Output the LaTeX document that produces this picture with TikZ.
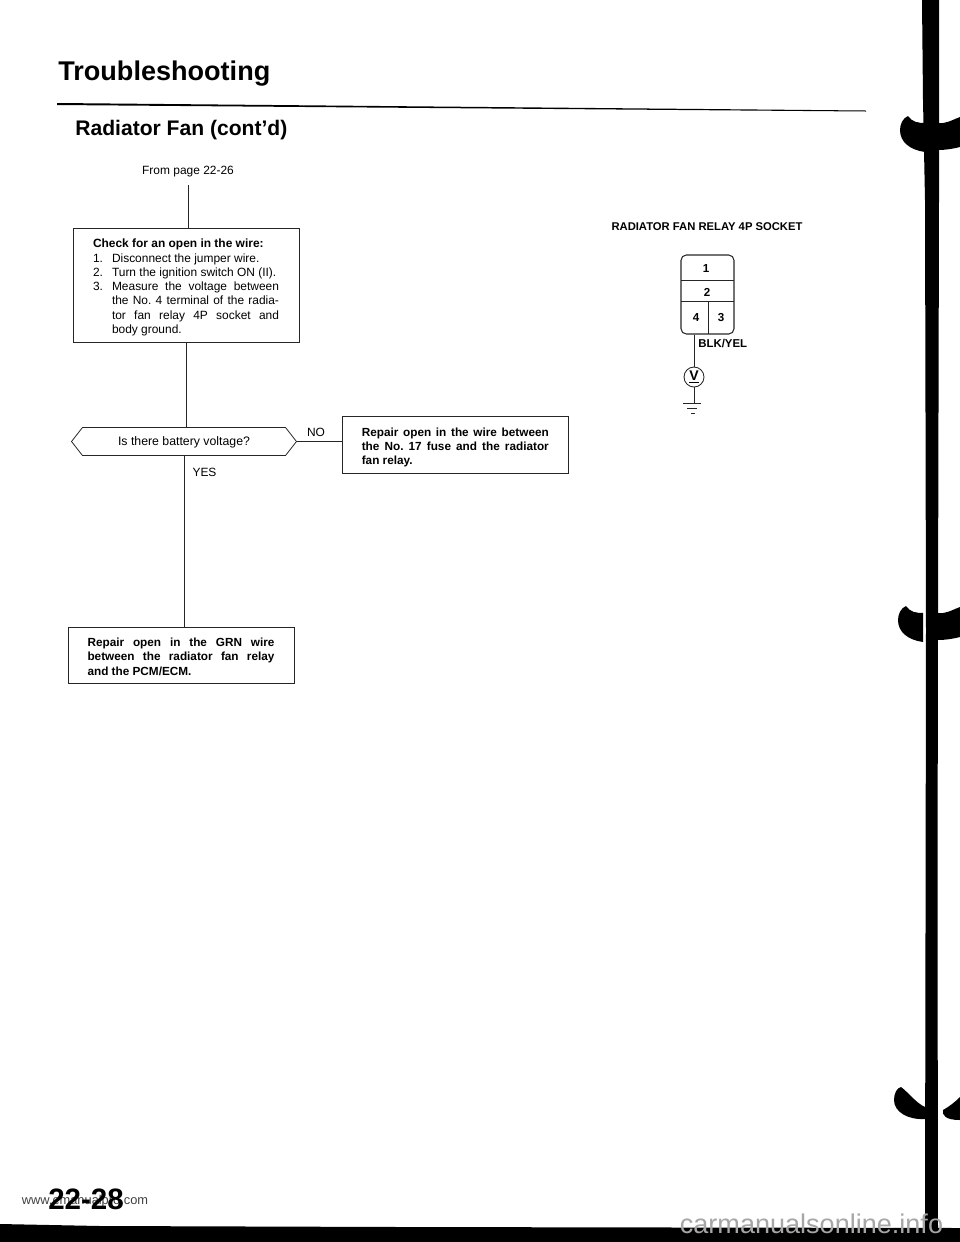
\documentclass[tikz,border=0pt]{standalone}
\usepackage{fontspec}
\setmainfont{Liberation Sans}
\usetikzlibrary{shapes.symbols}
\frenchspacing
\def\fitline#1#2{\makebox[#1][s]{#2}}
\def\stepline#1#2{\makebox[0.38cm][l]{#1}#2}
\def\binderclip(#1:#2){
	\fill[shift={(#1,#2)}] (8,-14) .. controls (12,-8) and (18,-7) .. (25,-7) -- (25,22) .. controls (10,20) and (0,12) .. (0,0) .. controls (0,-6) and (3,-12) .. (8,-14) -- cycle;
	\fill[shift={(938,#2)}] (0,-7) .. controls (8,-6) and (14,-10) .. (22,-13) -- (22,17) .. controls (14,19) and (7,20) .. (0,20) -- cycle;
}
\tikzset{
	bodybox/.style={draw=black!85, line width=0.45pt, inner sep=0pt, align=left, font=\fontsize{6.7}{8.1}\selectfont\bfseries},
	plainbox/.style={bodybox, font=\fontsize{6.8}{8.1}\selectfont},
	smalltext/.style={inner sep=0pt, font=\fontsize{6.8}{8.1}\selectfont},
	pinlabel/.style={inner sep=0pt, font=\fontsize{6.6}{8.1}\selectfont\bfseries},
	wire/.style={line width=0.45pt, color=black!85}
}

\begin{document}
\begin{tikzpicture}[x=0.02cm, y=-0.02cm]
	%%%%% START %%%%%
	\useasboundingbox (0, 0) rectangle (960, 1242);

	\node[anchor=base west, inner sep=0pt, font=\fontsize{15.4}{18}\selectfont\bfseries] (pagetitle) at (58, 80) {Troubleshooting};
	\fill (57, 103) -- (866, 110.5) -- (866, 111.5) -- (57, 105) -- cycle;
	\node[anchor=base west, inner sep=0pt, font=\fontsize{12}{14}\selectfont\bfseries] (sectiontitle) at (75, 135) {Radiator Fan (cont'd)};

	\node[smalltext, anchor=base] (frompage) at (188, 174) {From page 22-26};
	\coordinate (leadin) at (188, 185);

	\node[plainbox, minimum width=4.52cm, minimum height=2.28cm] (checkwire) at (186, 285) {%
		\rule{0pt}{7.8pt}{\bfseries Check for an open in the wire:}\\
		\stepline{1.}{Disconnect the jumper wire.}\\
		\stepline{2.}{Turn the ignition switch ON (II).}\\
		\stepline{3.}{\fitline{3.34cm}{Measure the voltage between}}\\
		\stepline{}{\fitline{3.34cm}{the No. 4 terminal of the radia-}}\\
		\stepline{}{\fitline{3.34cm}{tor fan relay 4P socket and}}\\
		\stepline{}{body ground.}};

	\node[draw=black!85, line width=0.45pt, shape=signal, signal to=west and east, signal pointer angle=104, inner sep=0pt, minimum width=4.5cm, minimum height=0.56cm, smalltext, font=\fontsize{7}{8.1}\selectfont] (askvoltage) at (184, 441.5) {\raisebox{-2pt}[0pt][0pt]{Is there battery voltage?}};

	\node[bodybox, minimum width=4.53cm, minimum height=1.14cm] (repairfuse) at (455.3, 444.5) {%
		\rule{0pt}{8.4pt}\fitline{3.74cm}{Repair open in the wire between}\\
		\fitline{3.74cm}{the No. 17 fuse and the radiator}\\
		fan relay.};

	\node[bodybox, minimum width=4.52cm, minimum height=1.12cm] (repairgrn) at (181, 655) {%
		\rule{0pt}{6.7pt}\fitline{3.74cm}{Repair open in the GRN wire}\\
		\fitline{3.74cm}{between the radiator fan relay}\\
		and the PCM/ECM.};

	\node[smalltext] (nolabel) at (316, 432) {NO};
	\node[smalltext] (yeslabel) at (204.5, 472) {YES};

	\draw[wire] (leadin) -- (leadin |- checkwire.north);
	\draw[wire] (checkwire.south) -- (checkwire.south |- askvoltage.north);
	\draw[wire] (askvoltage.south) -- (askvoltage.south |- repairgrn.north);
	\draw[wire] (askvoltage.east) -- (askvoltage.east -| repairfuse.west);

	\node[inner sep=0pt, font=\fontsize{6.4}{8}\selectfont\bfseries] (sockettitle) at (707, 226.5) {RADIATOR FAN RELAY 4P SOCKET};

	\node[draw=black!85, line width=0.6pt, rounded corners=3, minimum width=1.06cm, minimum height=1.58cm] (socket) at (707.5, 294.5) {};
	\draw[wire] (681, 280) -- (734, 280);
	\draw[wire] (681, 301) -- (734, 301);
	\draw[wire] (708, 301) -- (708, 334);
	\node[pinlabel] (pinone) at (706, 269) {1};
	\node[pinlabel] (pintwo) at (707, 292) {2};
	\node[pinlabel] (pinfour) at (696, 318) {4};
	\node[pinlabel] (pinthree) at (721, 318) {3};
	\node[anchor=west, inner sep=0pt, font=\fontsize{6.5}{8}\selectfont\bfseries] (wirecolor) at (698, 343) {BLK/YEL};

	\node[draw=black!85, line width=0.5pt, circle, inner sep=0pt, minimum size=0.4cm, font=\fontsize{8}{8}\selectfont\bfseries] (voltmeter) at (694, 377) {\underline{V}};
	\coordinate (earth) at (693, 403);
	\draw[wire] (voltmeter.north |- socket.south) -- (voltmeter.north);
	\draw[wire] (voltmeter.south) -- (voltmeter.south |- earth);
	\draw[wire] (683, 403) -- (701, 403);
	\draw[wire] (687, 408) -- (697, 408);
	\draw[wire] (691, 413) -- (695, 413);

	\fill (922, 0) -- (939, 0) -- (939, 200) -- (938, 620) -- (937.5, 900) -- (938, 1229) -- (925, 1229) -- (926, 630) -- (925, 200) -- (923, 100) -- cycle;
	\binderclip(900:130);
	\binderclip(898:620);
	\fill (901, 1087) .. controls (908, 1092) and (916, 1103) .. (925, 1107) -- (925, 1119) .. controls (908, 1120) and (894, 1112) .. (894, 1100) .. controls (894, 1093) and (897, 1088) .. (901, 1087) -- cycle;
	\fill (960, 1097) .. controls (955, 1102) and (950, 1106) .. (943, 1110) .. controls (942, 1115) and (945, 1120) .. (960, 1120) -- cycle;
	\fill (0, 1224) -- (100, 1226) -- (400, 1227) -- (960, 1228) -- (960, 1242) -- (0, 1242) -- cycle;

	\node[inner sep=0pt, font=\fontsize{7.3}{9}\selectfont, color=black!75] (sitemark) at (85, 1201) {www.emanualpro.com};
	\node[inner sep=0pt, font=\fontsize{16.8}{20}\selectfont\bfseries] (pagenumber) at (86, 1199) {22-28};
	\node[anchor=base, inner sep=0pt, font=\fontsize{15.4}{18}\selectfont, color=black!35] (footermark) at (811.5, 1233) {carmanualsonline.info};
	%%%%% END %%%%%
\end{tikzpicture}
\end{document}
